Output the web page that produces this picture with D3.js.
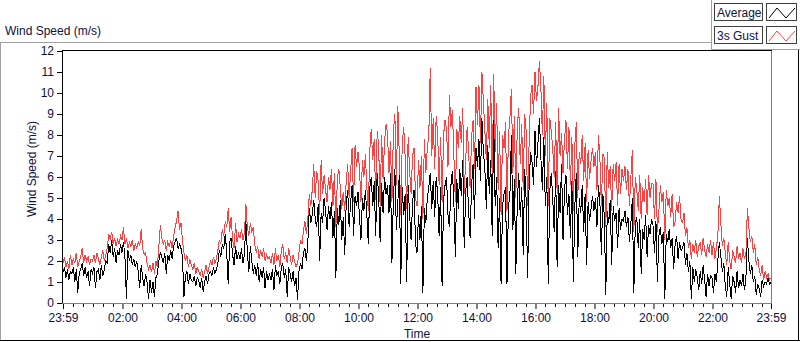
<!DOCTYPE html>
<html>
<head>
<meta charset="utf-8">
<script src="https://cdn.jsdelivr.net/npm/d3@7"></script>
<style>
  body { margin: 0; background: #ffffff; }
  svg { display: block; font-family: "Liberation Sans", Arial, sans-serif; }
</style>
</head>
<body>
<svg id="chart"></svg>
<script>
// wind speed over one day, one sample every 3 minutes starting at 23:59
const sampleMinutes = 3;

// one row = one hour (20 samples)
const average = [
  1.5,1.7,1.2,1.6,1.1,1.5,1.4,1.7,1.0,1.6,0.5,1.4,1.6,1.9,1.3,1.7,1.2,1.5,0.8,1.6,
  1.4,1.7,0.7,1.5,1.6,1.1,1.8,1.3,1.6,2.0,1.9,2.8,2.4,3.0,2.2,2.6,1.9,2.5,2.3,2.8,
  2.4,2.9,2.2,0.2,2.5,2.0,2.3,1.8,2.1,1.7,2.0,1.5,0.7,1.8,1.2,0.8,1.4,1.0,0.2,1.1,
  0.5,1.0,0.3,1.2,1.4,2.0,2.4,2.2,1.9,2.4,1.4,2.3,2.0,2.5,2.1,2.7,2.9,3.1,2.6,2.8,
  2.6,2.2,0.3,1.3,1.5,0.9,1.4,1.1,1.0,1.3,0.8,1.2,1.1,0.7,1.2,0.55,1.0,1.3,0.9,1.4,
  1.5,1.3,1.7,1.4,1.6,1.9,2.5,2.2,2.8,2.6,3.3,2.4,0.9,2.9,3.1,2.3,1.8,2.7,2.1,2.4,
  2.1,2.6,1.9,2.3,3.9,2.4,1.5,2.7,2.0,1.4,1.8,1.3,1.9,1.0,1.6,1.2,1.7,0.7,1.5,1.1,
  1.4,1.1,1.6,0.6,1.8,1.3,1.5,0.9,1.7,1.9,1.2,1.6,0.3,1.7,1.4,1.0,1.5,0.8,1.2,0.14,
  1.5,1.9,1.6,2.4,2.6,2.0,2.9,4.5,3.8,4.2,4.9,4.0,3.6,4.7,2.0,4.3,3.8,5.0,4.4,3.5,
  4.6,4.0,4.8,3.1,4.4,1.2,4.5,3.7,4.9,3.0,4.1,2.3,4.7,5.4,3.6,4.8,5.6,3.2,5.1,4.6,
  5.3,4.1,3.0,5.0,4.4,5.4,4.2,2.8,5.5,6.0,4.6,5.8,3.2,6.2,5.1,2.9,5.7,4.3,6.0,5.2,
  5.6,4.3,6.2,1.9,5.0,6.4,3.5,4.8,6.1,0.9,5.5,4.2,5.2,1.0,5.6,4.2,3.0,4.8,5.4,2.8,
  2.4,4.2,3.0,4.6,0.5,4.5,3.8,5.0,5.5,6.2,4.5,5.8,4.1,6.0,5.2,3.2,5.5,0.8,4.9,5.6,
  6.0,4.2,3.6,5.6,6.3,4.8,2.2,5.9,4.5,6.4,5.1,6.8,2.6,5.3,6.0,4.4,3.1,5.6,6.6,4.0,
  7.4,6.5,7.8,5.8,8.8,7.2,6.4,4.5,7.5,5.2,6.8,3.2,8.7,4.6,6.0,2.6,5.0,0.9,4.6,5.2,
  5.5,0.9,4.6,5.2,8.0,3.5,5.9,1.4,4.8,6.2,4.1,5.5,2.3,6.4,4.9,1.2,5.6,7.2,6.7,5.6,
  8.2,6.5,7.6,8.8,6.9,5.4,7.9,4.6,6.0,0.9,5.3,6.2,5.0,3.4,6.3,1.7,5.6,4.3,6.6,3.0,
  5.4,6.1,4.2,5.2,3.1,5.8,1.0,4.6,6.2,2.2,5.0,4.3,5.6,3.4,5.2,1.8,4.8,3.9,4.5,5.1,
  4.4,5.0,3.6,5.6,4.8,2.3,5.2,4.1,0.4,4.4,3.8,4.9,1.8,4.6,3.9,4.3,2.6,4.5,3.5,4.0,
  3.9,4.4,3.6,4.1,2.9,3.8,5.0,0.5,3.8,4.1,2.6,4.0,1.4,3.5,3.0,4.2,2.2,3.7,3.3,4.0,
  3.7,2.4,3.9,1.0,3.2,3.6,2.8,3.4,0.2,3.3,2.9,3.5,2.6,3.1,1.6,2.8,3.2,2.1,2.9,2.5,
  2.6,2.9,1.8,2.4,1.5,2.0,0.2,1.7,1.0,1.6,1.2,0.6,1.5,0.9,1.8,1.1,0.3,1.4,0.8,1.3,
  1.2,0.5,1.4,1.0,2.1,2.9,2.2,1.5,1.9,0.8,0.3,1.7,0.9,0.2,1.3,1.0,0.5,1.5,0.7,1.1,
  0.8,1.4,0.6,1.2,3.1,2.0,1.4,1.8,1.0,1.3,0.4,0.9,0.7,0.3,1.1,0.8,1.0,0.9,1.2,0.9,1.0
];

const gust = [
  1.9,2.2,1.7,2.0,1.6,2.3,1.8,2.1,1.9,2.4,1.7,2.0,2.2,2.6,1.9,2.3,2.0,2.2,1.8,2.1,
  2.0,2.3,1.9,2.4,2.1,1.8,2.2,2.5,2.0,2.3,2.6,3.3,3.0,3.4,2.8,3.1,2.7,3.0,2.8,3.2,
  3.0,3.6,2.8,3.1,2.6,2.9,2.7,3.0,2.5,2.8,2.6,2.9,2.7,3.5,2.6,2.3,2.4,1.9,1.6,1.8,
  1.5,1.9,1.4,2.0,1.7,2.7,3.7,3.1,2.8,3.0,2.5,2.9,2.7,3.0,2.6,3.2,3.6,3.9,4.4,3.5,
  3.8,3.0,2.4,2.0,2.3,1.7,2.1,1.8,1.6,1.9,1.4,1.7,1.5,1.3,1.6,1.2,1.5,1.8,1.4,1.7,
  2.0,1.8,2.2,1.9,2.1,2.5,3.0,2.8,3.5,3.2,3.9,3.6,4.5,3.4,4.1,3.0,2.6,3.8,2.9,3.3,
  3.1,3.5,3.0,3.3,4.7,3.6,3.2,3.8,3.4,3.6,2.8,2.4,2.7,2.1,2.5,2.2,2.6,2.0,2.3,2.1,
  2.2,1.9,2.4,1.8,2.6,2.0,2.3,1.7,2.5,2.8,2.1,2.4,1.9,2.6,2.2,1.8,2.3,2.0,1.7,1.9,
  2.4,3.0,2.8,3.4,3.9,3.3,4.0,5.2,4.6,5.4,6.6,5.0,6.3,5.8,4.2,6.8,5.2,6.1,5.4,4.8,
  6.0,5.4,6.4,4.6,6.2,3.6,5.9,6.4,5.5,4.5,5.3,4.4,5.8,6.6,5.0,6.3,7.4,4.8,7.5,6.5,
  7.2,6.4,4.8,6.8,6.0,7.1,5.5,4.4,7.3,8.3,6.8,7.8,4.9,8.2,7.5,4.6,8.0,5.9,7.7,8.5,
  8.1,6.2,7.7,4.8,8.2,9.0,5.6,9.4,7.0,4.2,7.6,8.4,6.9,4.5,7.9,6.3,5.2,7.0,7.4,5.0,
  4.6,6.8,5.5,7.0,4.0,7.8,6.2,7.4,8.0,11.2,7.0,8.8,6.4,8.9,8.1,5.6,7.9,4.8,8.0,8.7,
  8.3,6.5,9.9,8.4,9.2,7.0,4.8,8.3,7.4,8.9,7.6,9.3,5.2,6.8,8.4,7.2,5.5,7.9,8.7,6.4,
  10.3,8.5,10.4,7.6,11.0,9.6,8.2,6.8,9.7,7.4,10.4,5.8,10.9,7.2,9.5,5.4,8.2,4.2,8.0,7.4,
  8.6,4.4,8.0,8.8,10.2,6.2,8.9,5.0,8.4,9.3,6.6,8.5,5.4,9.0,8.2,4.6,7.6,9.8,10.4,9.0,
  11.0,9.6,10.3,11.5,10.2,8.0,10.8,7.0,9.5,4.6,8.8,8.2,7.4,6.0,8.6,5.2,9.3,7.0,8.1,6.2,
  7.8,8.7,6.4,8.4,5.6,7.9,4.4,7.5,8.6,5.0,7.2,6.6,8.0,5.8,7.6,4.8,7.3,5.9,6.8,7.4,
  6.5,7.2,5.4,8.0,6.9,4.6,7.1,6.9,3.6,7.2,5.5,6.5,4.4,6.6,5.8,6.7,4.6,6.6,5.2,6.4,
  5.8,6.5,5.4,6.4,4.6,6.0,7.3,3.4,6.0,5.4,4.4,6.1,4.0,5.5,4.8,5.9,4.2,6.1,5.0,5.7,
  5.7,4.0,5.9,3.4,4.4,5.6,4.8,5.3,3.0,5.4,4.6,5.0,4.1,5.2,3.6,3.9,4.8,4.3,5.1,4.0,
  3.8,4.3,3.2,3.6,2.6,3.0,2.1,2.8,2.4,3.0,2.2,2.7,2.9,2.3,3.1,2.5,2.2,2.8,2.4,3.0,
  2.3,2.9,2.1,2.6,3.3,5.1,3.8,2.7,3.1,2.4,1.8,2.9,2.0,1.6,2.5,2.2,1.9,2.7,2.1,2.4,
  1.9,2.6,2.1,2.3,4.5,3.6,2.9,3.2,2.4,2.8,1.8,2.2,1.6,1.3,1.8,1.1,1.5,1.2,1.4,1.1,1.2
];

// axis ticks - minutes after 23:59 and what gets printed there
const timeTicks = [0, 121, 241, 361, 481, 601, 721, 841, 961, 1081, 1201, 1321, 1440];
const timeLabels = ["23:59", "02:00", "04:00", "06:00", "08:00", "10:00", "12:00",
                    "14:00", "16:00", "18:00", "20:00", "22:00", "23:59"];
const speedTicks = [0, 1, 2, 3, 4, 5, 6, 7, 8, 9, 10, 11, 12];

const legendNames = ["Average", "3s Gust"];
const legendColors = ["#000000", "#ff4040"];

const W = 800, H = 342;
// plot box (named so they don't clash with window.top etc)
const plotL = 63, plotR = 771, plotT = 51, plotB = 303;
const textCol = "#10103c";

const svg = d3.select("#chart").attr("width", W).attr("height", H);

const x = d3.scaleLinear().domain([0, 1440]).range([plotL, plotR]);
const y = d3.scaleLinear().domain([0, 12]).range([plotB, plotT]);

// outer panel frame
svg.append("line").attr("x1", 0).attr("x2", 712).attr("y1", 42.5).attr("y2", 42.5).attr("stroke", "#a0a0a0");
svg.append("line").attr("x1", 0.5).attr("x2", 0.5).attr("y1", 42).attr("y2", 341).attr("stroke", "#a0a0a0");
svg.append("line").attr("x1", 0).attr("x2", 800).attr("y1", 340.5).attr("y2", 340.5).attr("stroke", "#000");
svg.append("line").attr("x1", 798.5).attr("x2", 798.5).attr("y1", 49).attr("y2", 341).attr("stroke", "#000");
// legend corner
svg.append("line").attr("x1", 711.5).attr("x2", 711.5).attr("y1", 0).attr("y2", 49).attr("stroke", "#a0a0a0");
svg.append("line").attr("x1", 711).attr("x2", 800).attr("y1", 49.5).attr("y2", 49.5).attr("stroke", "#a0a0a0");

// chart title above the frame
svg.append("text").attr("x", 5).attr("y", 35)
  .attr("font-size", 12).attr("fill", textCol)
  .text("Wind Speed (m/s)");

// plot background
svg.append("rect").attr("x", plotL).attr("y", plotT)
  .attr("width", plotR - plotL).attr("height", plotB - plotT).attr("fill", "#fff");

// the two traces, gust first so average sits over it
// crispEdges gives the hard aliased look of the original instrument plot
const line = d3.line()
  .x((d, i) => x(i * sampleMinutes))
  .y(d => y(d));

svg.append("path").datum(gust)
  .attr("d", line).attr("fill", "none")
  .attr("stroke", legendColors[1]).attr("stroke-width", 1)
  .attr("shape-rendering", "crispEdges");
svg.append("path").datum(average)
  .attr("d", line).attr("fill", "none")
  .attr("stroke", legendColors[0]).attr("stroke-width", 1)
  .attr("shape-rendering", "crispEdges");

// plot border: dark top/left, grey bottom/right
svg.append("line").attr("x1", plotL - 0.5).attr("x2", plotR + 1).attr("y1", plotT - 0.5).attr("y2", plotT - 0.5).attr("stroke", "#000");
svg.append("line").attr("x1", plotL - 0.5).attr("x2", plotL - 0.5).attr("y1", plotT - 1).attr("y2", plotB + 1).attr("stroke", "#000");
svg.append("line").attr("x1", plotL - 1).attr("x2", plotR + 1).attr("y1", plotB + 0.5).attr("y2", plotB + 0.5).attr("stroke", "#808080");
svg.append("line").attr("x1", plotR + 0.5).attr("x2", plotR + 0.5).attr("y1", plotT).attr("y2", plotB + 1).attr("stroke", "#808080");

// y axis
const yAxis = d3.axisLeft(y).tickValues(speedTicks).tickSize(5).tickPadding(3);
const gy = svg.append("g").attr("transform", `translate(${plotL - 1},0)`).call(yAxis);
gy.select(".domain").remove();
gy.selectAll("line").attr("stroke", "#000");
gy.selectAll("text").attr("font-size", 12).attr("fill", textCol).attr("font-family", "Liberation Sans, Arial, sans-serif");

// x axis - major ticks with labels, minor ticks every 20 minutes
const xAxis = d3.axisBottom(x).tickValues(timeTicks).tickSize(5).tickPadding(4)
  .tickFormat((d, i) => timeLabels[i]);
const gx = svg.append("g").attr("transform", `translate(0,${plotB + 1})`).call(xAxis);
gx.select(".domain").remove();
gx.selectAll("line").attr("stroke", "#000");
gx.selectAll("text").attr("font-size", 12).attr("fill", textCol).attr("font-family", "Liberation Sans, Arial, sans-serif");

const minor = d3.range(21, 1440, 20).filter(m => !timeTicks.includes(m));
svg.append("g").selectAll("line").data(minor).enter().append("line")
  .attr("x1", d => Math.round(x(d)) + 0.5).attr("x2", d => Math.round(x(d)) + 0.5)
  .attr("y1", plotB + 1).attr("y2", plotB + 4)
  .attr("stroke", "#000");

// axis titles
svg.append("text").attr("x", (plotL + plotR) / 2).attr("y", 338)
  .attr("text-anchor", "middle").attr("font-size", 12).attr("fill", textCol)
  .text("Time");
svg.append("text")
  .attr("transform", `translate(36,${(plotT + plotB) / 2 - 8}) rotate(-90)`)
  .attr("text-anchor", "middle").attr("font-size", 12).attr("fill", textCol)
  .text("Wind Speed (m/s)");

// legend: name box + small swatch box with a zigzag
const leg = svg.append("g").selectAll("g").data(legendNames).enter().append("g")
  .attr("transform", (d, i) => `translate(0,${i * 23})`);
leg.append("rect").attr("x", 714.5).attr("y", 3.5).attr("width", 48).attr("height", 17)
  .attr("fill", "#fff").attr("stroke", "#404040");
leg.append("text").attr("x", 717).attr("y", 17)
  .attr("font-size", 12).attr("fill", textCol).text(d => d);
leg.append("rect").attr("x", 766.5).attr("y", 3.5).attr("width", 30).attr("height", 17)
  .attr("fill", "#fff").attr("stroke", "#404040");
leg.append("polyline")
  .attr("points", "769,18 777,8 786,18 795,8")
  .attr("fill", "none").attr("stroke", (d, i) => legendColors[i]);
</script>
</body>
</html>
